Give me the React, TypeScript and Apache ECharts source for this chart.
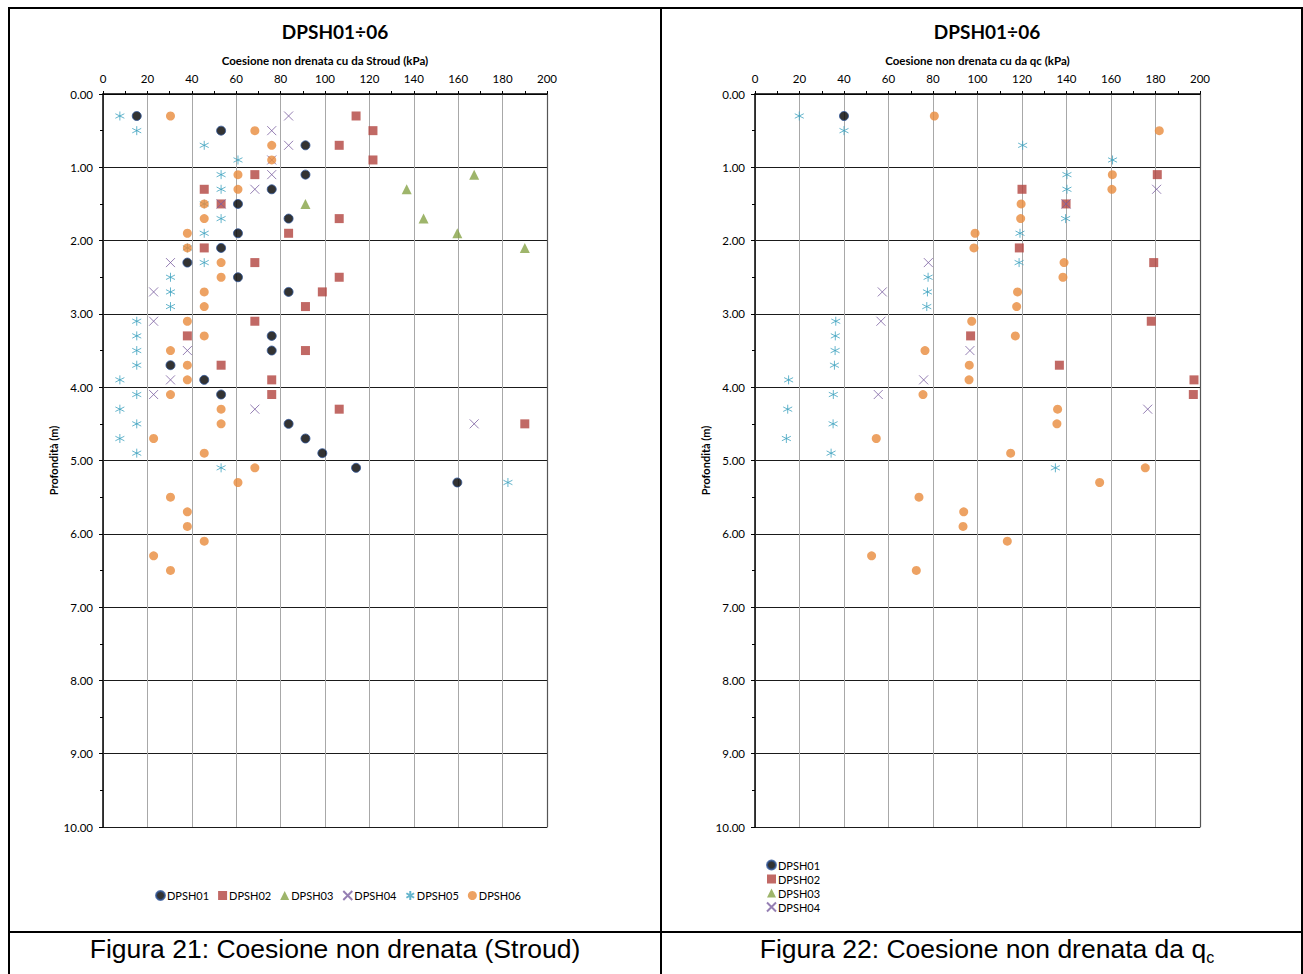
import React, { useEffect, useRef } from "react";
import * as echarts from "echarts";

// ---- Data: [value kPa, depth m] ----
const stroudDPSH01: [number, number][] = [
  [15.2, 0.3], [53.2, 0.5], [91.2, 0.7], [91.2, 1.1], [76, 1.3], [60.8, 1.5], [83.6, 1.7], [60.8, 1.9],
  [53.2, 2.1], [38, 2.3], [60.8, 2.5], [83.6, 2.7], [76, 3.3], [76, 3.5], [30.4, 3.7], [45.6, 3.9],
  [53.2, 4.1], [83.6, 4.5], [91.2, 4.7], [98.8, 4.9], [114, 5.1], [159.6, 5.3],
];
const stroudDPSH02: [number, number][] = [
  [114, 0.3], [121.6, 0.5], [106.4, 0.7], [121.6, 0.9], [68.4, 1.1], [45.6, 1.3], [53.2, 1.5], [106.4, 1.7],
  [83.6, 1.9], [45.6, 2.1], [68.4, 2.3], [106.4, 2.5], [98.8, 2.7], [91.2, 2.9], [68.4, 3.1], [38, 3.3],
  [91.2, 3.5], [53.2, 3.7], [76, 3.9], [76, 4.1], [106.4, 4.3], [190, 4.5],
];
const stroudDPSH03: [number, number][] = [
  [167.2, 1.1], [136.8, 1.3], [91.2, 1.5], [144.4, 1.7], [159.6, 1.9], [190, 2.1],
];
const stroudDPSH04: [number, number][] = [
  [83.6, 0.3], [76, 0.5], [83.6, 0.7], [76, 0.9], [76, 1.1], [68.4, 1.3], [53.2, 1.5], [30.4, 2.3],
  [22.8, 2.7], [22.8, 3.1], [38, 3.5], [30.4, 3.9], [22.8, 4.1], [68.4, 4.3], [167.2, 4.5],
];
const stroudDPSH05: [number, number][] = [
  [7.6, 0.3], [15.2, 0.5], [45.6, 0.7], [60.8, 0.9], [53.2, 1.1], [53.2, 1.3], [45.6, 1.5], [53.2, 1.7],
  [45.6, 1.9], [38, 2.1], [45.6, 2.3], [30.4, 2.5], [30.4, 2.7], [30.4, 2.9], [15.2, 3.1], [15.2, 3.3],
  [15.2, 3.5], [15.2, 3.7], [7.6, 3.9], [15.2, 4.1], [7.6, 4.3], [15.2, 4.5], [7.6, 4.7], [15.2, 4.9],
  [53.2, 5.1], [182.4, 5.3],
];
const stroudDPSH06: [number, number][] = [
  [30.4, 0.3], [68.4, 0.5], [76, 0.7], [76, 0.9], [60.8, 1.1], [60.8, 1.3], [45.6, 1.5], [45.6, 1.7],
  [38, 1.9], [38, 2.1], [53.2, 2.3], [53.2, 2.5], [45.6, 2.7], [45.6, 2.9], [38, 3.1], [45.6, 3.3],
  [30.4, 3.5], [38, 3.7], [38, 3.9], [30.4, 4.1], [53.2, 4.3], [53.2, 4.5], [22.8, 4.7], [45.6, 4.9],
  [68.4, 5.1], [60.8, 5.3], [30.4, 5.5], [38, 5.7], [38, 5.9], [45.6, 6.1], [22.8, 6.3], [30.4, 6.5],
];

const qcDPSH01: [number, number][] = [[40, 0.3]];
const qcDPSH02: [number, number][] = [
  [180.8, 1.1], [120, 1.3], [139.8, 1.5], [118.8, 2.1], [179.2, 2.3], [178.1, 3.1], [96.9, 3.3],
  [136.8, 3.7], [197.3, 3.9], [197, 4.1],
];
const qcDPSH03: [number, number][] = [];
const qcDPSH04: [number, number][] = [
  [180.5, 1.3], [139.8, 1.5], [77.9, 2.3], [57.2, 2.7], [56.6, 3.1], [96.6, 3.5], [75.8, 3.9],
  [55.4, 4.1], [176.5, 4.3],
];
const qcDPSH05: [number, number][] = [
  [19.9, 0.3], [40, 0.5], [120.3, 0.7], [160.7, 0.9], [140.2, 1.1], [140.2, 1.3], [139.6, 1.7],
  [119.1, 1.9], [118.7, 2.3], [77.8, 2.5], [77.5, 2.7], [77.2, 2.9], [36.3, 3.1], [36.1, 3.3],
  [36, 3.5], [35.7, 3.7], [15.1, 3.9], [35.2, 4.1], [14.7, 4.3], [35.1, 4.5], [14.1, 4.7],
  [34.2, 4.9], [135, 5.1],
];
const qcDPSH06: [number, number][] = [
  [80.6, 0.3], [181.7, 0.5], [160.6, 1.1], [160.4, 1.3], [119.6, 1.5], [119.4, 1.7], [98.9, 1.9],
  [98.4, 2.1], [138.9, 2.3], [138.4, 2.5], [118, 2.7], [117.6, 2.9], [97.4, 3.1], [117, 3.3],
  [76.4, 3.5], [96.3, 3.7], [96.2, 3.9], [75.5, 4.1], [136, 4.3], [135.7, 4.5], [54.5, 4.7],
  [114.9, 4.9], [175.4, 5.1], [154.9, 5.3], [73.7, 5.5], [93.8, 5.7], [93.5, 5.9], [113.4, 6.1],
  [52.4, 6.3], [72.5, 6.5],
];

const seriesNames = ["DPSH01", "DPSH02", "DPSH03", "DPSH04", "DPSH05", "DPSH06"];
const rightLegendNames = ["DPSH01", "DPSH02", "DPSH03", "DPSH04"];
const chartTitle = "DPSH01÷06";
const xNameLeft = "Coesione non drenata cu da Stroud (kPa)";
const xNameRight = "Coesione non drenata cu da qc (kPa)";
const yName = "Profondità (m)";

const FONT = "Lato, 'Open Sans', sans-serif";
const CAPTION_FONT = "'Liberation Sans', Arial, sans-serif";

const markerStyles: any[] = [
  { symbol: "circle", symbolSize: 9, itemStyle: { color: "#000000", borderColor: "#2f5597", borderWidth: 1 } },
  { symbol: "rect", symbolSize: 9, itemStyle: { color: "#b1443f" } },
  { symbol: "triangle", symbolSize: 10, itemStyle: { color: "#86a346" } },
  {
    symbol: "path://M0,0L10,10M10,0L0,10",
    symbolSize: 9,
    itemStyle: { color: "rgba(0,0,0,0)", borderColor: "#7b5fa0", borderWidth: 1 },
  },
  {
    symbol: "path://M5,0L5,10M0.7,2.5L9.3,7.5M0.7,7.5L9.3,2.5",
    symbolSize: 9,
    itemStyle: { color: "rgba(0,0,0,0)", borderColor: "#3fa3bf", borderWidth: 1 },
  },
  { symbol: "circle", symbolSize: 9, itemStyle: { color: "#e98b3c" } },
];

function mkX(gridIndex: number, name: string) {
  return {
    type: "value",
    gridIndex,
    position: "top",
    min: 0,
    max: 200,
    interval: 20,
    name,
    nameLocation: "middle",
    nameGap: 28,
    nameTextStyle: { fontFamily: FONT, fontSize: 11.5, fontWeight: "bold", color: "#000" },
    axisLine: { show: true, lineStyle: { color: "#000", width: 1.5 } },
    axisTick: { show: true, length: 3, lineStyle: { color: "#000" } },
    minorTick: { show: true, splitNumber: 2, length: 3, lineStyle: { color: "#000" } },
    axisLabel: { fontFamily: FONT, fontSize: 11.5, color: "#000", margin: 10 },
    splitLine: { show: true, lineStyle: { color: "#a8a8a8", width: 1 } },
  };
}

function mkY(gridIndex: number) {
  return {
    type: "value",
    gridIndex,
    inverse: true,
    min: 0,
    max: 10,
    interval: 1,
    name: yName,
    nameLocation: "middle",
    nameRotate: 90,
    nameGap: 44,
    nameTextStyle: { fontFamily: FONT, fontSize: 11, fontWeight: "bold", color: "#000" },
    axisLine: { show: true, lineStyle: { color: "#000", width: 1.5 } },
    axisTick: { show: true, length: 4, lineStyle: { color: "#000" } },
    minorTick: { show: true, splitNumber: 2, length: 3, lineStyle: { color: "#000" } },
    axisLabel: {
      fontFamily: FONT,
      fontSize: 11.5,
      color: "#000",
      margin: 10,
      formatter: (v: number) => v.toFixed(2),
    },
    splitLine: { show: true, lineStyle: { color: "#1a1a1a", width: 1 } },
  };
}

function mkYRight(gridIndex: number) {
  return {
    type: "value",
    gridIndex,
    position: "right",
    inverse: true,
    min: 0,
    max: 10,
    interval: 1,
    axisLine: { show: true, lineStyle: { color: "#555", width: 1.2 } },
    axisTick: { show: false },
    axisLabel: { show: false },
    splitLine: { show: false },
  };
}

function mkSeries(name: string, data: [number, number][], idx: number, axis: number) {
  const m = markerStyles[idx];
  return {
    type: "scatter",
    name,
    data,
    xAxisIndex: axis,
    yAxisIndex: axis,
    symbol: m.symbol,
    symbolSize: m.symbolSize,
    itemStyle: m.itemStyle,
    emphasis: { disabled: true },
  };
}

export default function App() {
  const ref = useRef<HTMLDivElement>(null);

  useEffect(() => {
    if (!ref.current) return;
    const chart = echarts.init(ref.current, undefined, { renderer: "svg" });
    const leftData = [stroudDPSH01, stroudDPSH02, stroudDPSH03, stroudDPSH04, stroudDPSH05, stroudDPSH06];
    const rightData = [qcDPSH01, qcDPSH02, qcDPSH03, qcDPSH04, qcDPSH05, qcDPSH06];
    const series: any[] = [];
    seriesNames.forEach((n, i) => series.push(mkSeries(n, leftData[i], i, 0)));
    seriesNames.forEach((n, i) => series.push(mkSeries(n, rightData[i], i, 1)));

    const borderStyle = { stroke: "#000", lineWidth: 2 };
    const titleStyle = {
      text: chartTitle,
      fontFamily: FONT,
      fontSize: 19,
      fontWeight: "bold",
      fill: "#000",
      align: "center",
      verticalAlign: "middle",
    };
    const option: any = {
      animation: false,
      backgroundColor: "#fff",
      textStyle: { fontFamily: FONT },
      grid: [
        { left: 103, top: 94, width: 444, height: 733 },
        { left: 755, top: 94, width: 445, height: 733 },
      ],
      xAxis: [mkX(0, xNameLeft), mkX(1, xNameRight)],
      yAxis: [mkY(0), mkY(1), mkYRight(0), mkYRight(1)],
      legend: [
        {
          data: seriesNames,
          orient: "horizontal",
          left: 150,
          top: 885,
          itemWidth: 9,
          itemHeight: 9,
          itemGap: 9,
          selectedMode: false,
          textStyle: { fontFamily: FONT, fontSize: 11, color: "#000", padding: [0, 0, 0, -3] },
        },
        {
          data: rightLegendNames,
          orient: "vertical",
          left: 761,
          top: 854,
          itemWidth: 9,
          itemHeight: 9,
          itemGap: 2,
          selectedMode: false,
          textStyle: { fontFamily: FONT, fontSize: 11, color: "#000", lineHeight: 12, padding: [0, 0, 0, -3] },
        },
      ],
      graphic: [
        { type: "line", shape: { x1: 8, y1: 8, x2: 1303, y2: 8 }, style: borderStyle },
        { type: "line", shape: { x1: 9, y1: 8, x2: 9, y2: 974 }, style: borderStyle },
        { type: "line", shape: { x1: 661, y1: 8, x2: 661, y2: 974 }, style: borderStyle },
        { type: "line", shape: { x1: 1302, y1: 8, x2: 1302, y2: 974 }, style: borderStyle },
        { type: "line", shape: { x1: 8, y1: 932, x2: 1303, y2: 932 }, style: borderStyle },
        { type: "text", x: 335, y: 31, style: titleStyle },
        { type: "text", x: 987, y: 31, style: titleStyle },
        {
          type: "text",
          x: 335,
          y: 949,
          style: {
            text: "Figura 21: Coesione non drenata (Stroud)",
            fontFamily: CAPTION_FONT,
            fontSize: 26.5,
            fill: "#000",
            align: "center",
            verticalAlign: "middle",
          },
        },
        {
          type: "text",
          x: 987,
          y: 949,
          style: {
            text: "{a|Figura 22: Coesione non drenata da q}{b|c}",
            align: "center",
            verticalAlign: "middle",
            rich: {
              a: { fontFamily: CAPTION_FONT, fontSize: 26.5, fill: "#000", lineHeight: 32 },
              b: { fontFamily: CAPTION_FONT, fontSize: 16, fill: "#000", lineHeight: 32, verticalAlign: "bottom" },
            },
          },
        },
      ],
      series,
    };
    chart.setOption(option);
    return () => chart.dispose();
  }, []);

  return (
    <div
      ref={ref}
      style={{ position: "fixed", left: 0, top: 0, width: 1303, height: 974, background: "#fff" }}
    />
  );
}
